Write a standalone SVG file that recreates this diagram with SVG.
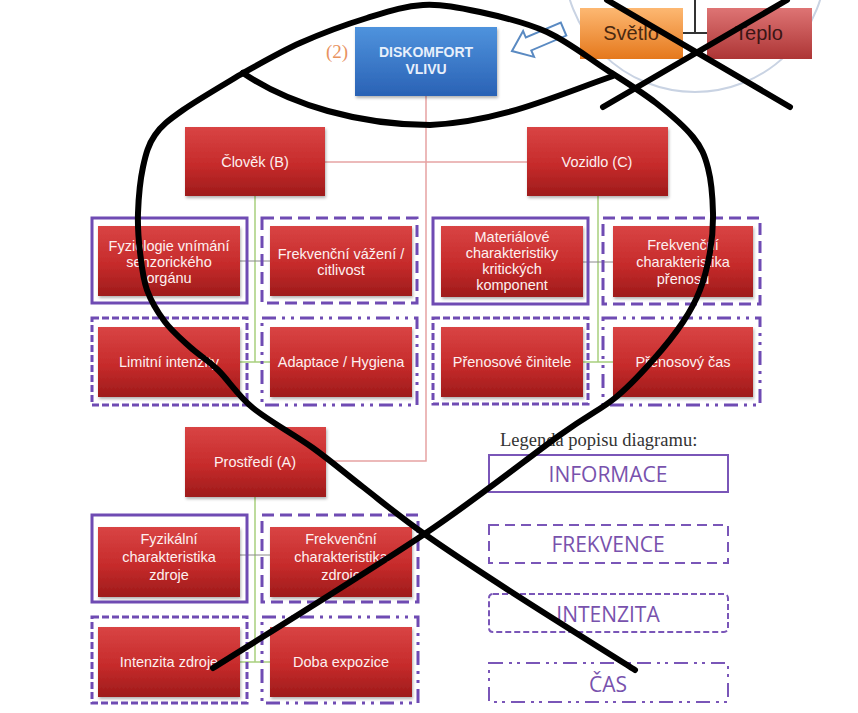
<svg xmlns="http://www.w3.org/2000/svg" width="858" height="713" viewBox="0 0 858 713">
<defs>
<linearGradient id="gRed" x1="0" y1="0" x2="0" y2="1">
<stop offset="0" stop-color="#d94444"/>
<stop offset="0.55" stop-color="#c62b2b"/>
<stop offset="1" stop-color="#9e1b1b"/>
</linearGradient>
<linearGradient id="gBlue" x1="0" y1="0" x2="0" y2="1">
<stop offset="0" stop-color="#4f93dd"/>
<stop offset="1" stop-color="#2a62b5"/>
</linearGradient>
<linearGradient id="gOrange" x1="0" y1="0" x2="0" y2="1">
<stop offset="0" stop-color="#fdb872"/>
<stop offset="1" stop-color="#e5781c"/>
</linearGradient>
<linearGradient id="gTeplo" x1="0" y1="0" x2="0" y2="1">
<stop offset="0" stop-color="#de7474"/>
<stop offset="1" stop-color="#ad3535"/>
</linearGradient>
<filter id="sh" x="-10%" y="-10%" width="120%" height="130%">
<feDropShadow dx="1" dy="2" stdDeviation="1.5" flood-color="#000" flood-opacity="0.3"/>
</filter>
</defs>
<style>
.box{fill:url(#gRed);filter:url(#sh)}
.t{font-family:"Liberation Sans",Arial,sans-serif;font-size:14.5px;fill:#fdf0f0;text-anchor:middle}
.o{fill:none;stroke:#6f4bb3;stroke-width:3}
.fr{stroke-dasharray:12 6}
.in{stroke-dasharray:7 3}
.cs{stroke-dasharray:14 6 3 6 3 6}
.pink{stroke:#e6a3a3;stroke-width:1.5;fill:none}
.green{stroke:#a8d07e;stroke-width:1.5;fill:none}
.gray{stroke:#8a8a8a;stroke-width:1;fill:none}
.ink{fill:none;stroke:#000;stroke-width:6;stroke-linecap:round;stroke-linejoin:round}
.lg{fill:none;stroke:#7a56b8;stroke-width:2}
.lt{font-family:"Open Sans","Liberation Sans",sans-serif;font-size:21px;font-weight:500;fill:#7852ad;text-anchor:middle}
</style>
<rect width="858" height="713" fill="#ffffff"/>

<circle cx="695" cy="-39" r="131" fill="none" stroke="#c9d3e3" stroke-width="2"/>

<g id="connectors">
<path class="pink" d="M426,96 V461 H326"/>
<path class="pink" d="M325,162 H527"/>
<path class="green" d="M255,196 V362 M240,362 H270"/>
<path class="green" d="M598,196 V362 M583,362 H613"/>
<path class="green" d="M255,497 V662 M240,662 H270"/>
<path class="gray" d="M240,261 H270 M583,262 H613 M240,555 H270"/>
<path d="M695,0 V33 M683,33 H707" stroke="#333" stroke-width="2" fill="none"/>
<path d="M0,0 L18,-14 L18,-7 L56,-7 L56,7 L18,7 L18,14 Z" transform="translate(512,51) rotate(-23)" fill="#fff" stroke="#5a8ac2" stroke-width="2" stroke-linejoin="miter"/>
</g>

<g id="label2"><text x="337" y="58" font-family="Liberation Serif,serif" font-size="19" fill="#e8935f" text-anchor="middle">(2)</text></g>

<g id="diskomfort">
<rect x="355" y="27" width="142" height="69" fill="url(#gBlue)" filter="url(#sh)"/>
<text x="426" y="57" font-family="Liberation Sans,Arial,sans-serif" font-size="14" font-weight="bold" fill="#e8f0fb" text-anchor="middle">DISKOMFORT</text>
<text x="426" y="74" font-family="Liberation Sans,Arial,sans-serif" font-size="14" font-weight="bold" fill="#e8f0fb" text-anchor="middle">VLIVU</text>
</g>

<g id="svetlo">
<rect x="580" y="8" width="103" height="51" fill="url(#gOrange)"/>
<text x="631" y="40" font-family="Liberation Sans,Arial,sans-serif" font-size="20" fill="#4a2810" text-anchor="middle">Světlo</text>
</g>
<g id="teplo">
<rect x="707" y="8" width="105" height="51" fill="url(#gTeplo)"/>
<text x="759" y="40" font-family="Liberation Sans,Arial,sans-serif" font-size="20" fill="#3a1515" text-anchor="middle">Teplo</text>
</g>

<g id="clovek"><rect class="box" x="185" y="127" width="140" height="69"/><text class="t" x="255" y="167">Člověk (B)</text></g>
<g id="vozidlo"><rect class="box" x="527" y="127" width="141" height="69"/><text class="t" x="597" y="167">Vozidlo (C)</text></g>
<g id="prostredi"><rect class="box" x="185" y="427" width="141" height="70"/><text class="t" x="255" y="467">Prostředí (A)</text></g>

<g id="fyziologie"><rect class="o" x="92" y="218" width="155" height="85"/><rect class="box" x="98" y="226" width="142" height="70"/>
<text class="t" x="169" y="251">Fyziologie vnímání</text><text class="t" x="169" y="267">senzorického</text><text class="t" x="169" y="283">orgánu</text></g>
<g id="frekv-vazeni"><rect class="o fr" x="262" y="218" width="155" height="85"/><rect class="box" x="270" y="226" width="142" height="70"/>
<text class="t" x="341" y="259">Frekvenční vážení /</text><text class="t" x="341" y="275">citlivost</text></g>
<g id="limitni"><rect class="o in" x="92" y="318" width="155" height="87"/><rect class="box" x="98" y="327" width="142" height="70"/>
<text class="t" x="169" y="367">Limitní intenzity</text></g>
<g id="adaptace"><rect class="o cs" x="262" y="318" width="155" height="87"/><rect class="box" x="270" y="327" width="142" height="70"/>
<text class="t" x="341" y="367">Adaptace / Hygiena</text></g>

<g id="materialove"><rect class="o" x="433" y="218" width="155" height="86"/><rect class="box" x="441" y="226" width="142" height="71"/>
<text class="t" x="512" y="242">Materiálové</text><text class="t" x="512" y="258">charakteristiky</text><text class="t" x="512" y="274">kritických</text><text class="t" x="512" y="290">komponent</text></g>
<g id="frekv-prenosu"><rect class="o fr" x="603" y="218" width="157" height="86"/><rect class="box" x="613" y="226" width="140" height="71"/>
<text class="t" x="683" y="250">Frekvenční</text><text class="t" x="683" y="267">charakteristika</text><text class="t" x="683" y="284">přenosu</text></g>
<g id="prenosove-cinitele"><rect class="o in" x="433" y="318" width="155" height="86"/><rect class="box" x="441" y="327" width="142" height="70"/>
<text class="t" x="512" y="367">Přenosové činitele</text></g>
<g id="prenosovy-cas"><rect class="o cs" x="603" y="318" width="157" height="87"/><rect class="box" x="613" y="327" width="140" height="70"/>
<text class="t" x="683" y="367">Přenosový čas</text></g>

<g id="fyzikalni"><rect class="o" x="92" y="515" width="155" height="87"/><rect class="box" x="98" y="527" width="142" height="70"/>
<text class="t" x="169" y="544">Fyzikální</text><text class="t" x="169" y="562">charakteristika</text><text class="t" x="169" y="580">zdroje</text></g>
<g id="frekv-zdroje"><rect class="o fr" x="262" y="515" width="156" height="87"/><rect class="box" x="270" y="527" width="142" height="70"/>
<text class="t" x="341" y="544">Frekvenční</text><text class="t" x="341" y="562">charakteristika</text><text class="t" x="341" y="580">zdroje</text></g>
<g id="intenzita-zdroje"><rect class="o in" x="92" y="617" width="155" height="86"/><rect class="box" x="98" y="627" width="142" height="70"/>
<text class="t" x="169" y="667">Intenzita zdroje</text></g>
<g id="doba-expozice"><rect class="o cs" x="262" y="617" width="156" height="86"/><rect class="box" x="270" y="627" width="142" height="70"/>
<text class="t" x="341" y="667">Doba expozice</text></g>

<g id="legend">
<text x="500" y="446" font-family="Liberation Serif,serif" font-size="18.5" fill="#333">Legenda popisu diagramu:</text>
<rect class="lg" x="489" y="455" width="239" height="37"/><text class="lt" x="608" y="482">INFORMACE</text>
<rect class="lg" x="489" y="525" width="239" height="38" stroke-dasharray="10 6"/><text class="lt" x="608" y="552">FREKVENCE</text>
<rect class="lg" x="489" y="594" width="239" height="38" rx="4" stroke-dasharray="6 3"/><text class="lt" x="608" y="622">INTENZITA</text>
<rect class="lg" x="489" y="663" width="239" height="39" stroke-dasharray="14 6 3 5 3 6"/><text class="lt" x="608" y="692">ČAS</text>
</g>

<g id="strokes">
<path class="ink" d="M243,73 C290,105 360,125 430,125 C500,122 555,96 613,76"/>
<path class="ink" d="M243,73 C252.5,68 279.3,52.2 300,43 C320.7,33.8 346.5,24.3 367,18 C387.5,11.7 404.2,6 423,5 C441.8,4 459.3,7.5 480,12 C500.7,16.5 525.8,22.3 547,32 C568.2,41.7 588.8,58.2 607,70 C625.2,81.8 641.7,91.8 656,103 C670.3,114.2 684.3,126.2 693,137 C701.7,147.8 704.7,155.3 708,168 C711.3,180.7 712.7,199 713,213 C713.3,227 712.2,239.2 710,252 C707.8,264.8 704.5,278.3 700,290 C695.5,301.7 690.8,310.3 683,322 C675.2,333.7 664.3,347.3 653,360 C641.7,372.7 630.5,385.5 615,398 C599.5,410.5 592,412.2 560,435 C528,457.8 480.8,496.2 423,535 C365.2,573.8 248,645.8 213,668"/>
<path class="ink" d="M243,73 C233,79.2 197.7,99.7 183,110 C168.3,120.3 161.7,125.5 155,135 C148.3,144.5 145.8,154 143,167 C140.2,180 138.5,198.8 138,213 C137.5,227.2 138.5,239.2 140,252 C141.5,264.8 142.8,278.3 147,290 C151.2,301.7 157.8,312.5 165,322 C172.2,331.5 181.2,339 190,347 C198.8,355 207.5,359.8 218,370 C228.5,380.2 237.2,395 253,408 C268.8,421 294.7,434.8 313,448 C331.3,461.2 344.7,472.8 363,487 C381.3,501.2 398,515.3 423,533 C448,550.7 477.7,570.2 513,593 C548.3,615.8 614.7,657.2 635,670"/>
<path class="ink" d="M607,0 L790,107 M603,107 L787,0"/>
</g>
</svg>
